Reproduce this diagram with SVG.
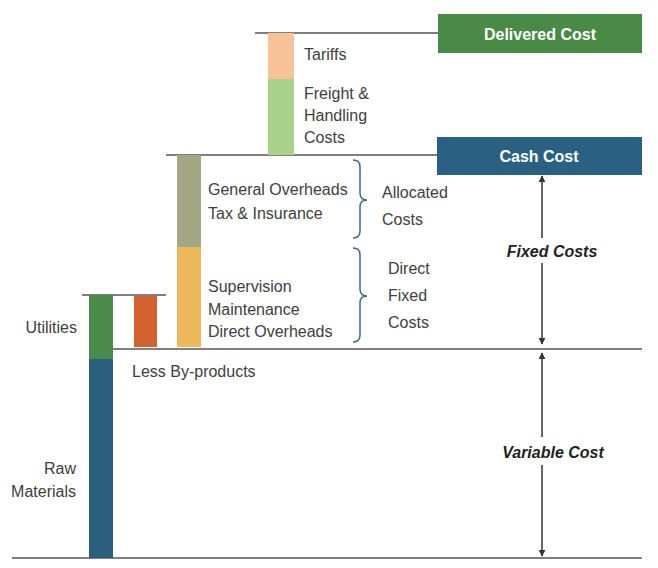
<svg xmlns="http://www.w3.org/2000/svg" width="658" height="568" viewBox="0 0 658 568">
<defs>
<style>
.t{font-family:"Liberation Sans",Arial,sans-serif;font-size:16px;fill:#404040}
.r{text-anchor:end}
.hd{font-family:"Liberation Sans",Arial,sans-serif;font-size:16px;font-weight:bold;fill:#ffffff;text-anchor:middle}
.it{font-family:"Liberation Sans",Arial,sans-serif;font-size:16px;font-weight:bold;font-style:italic;fill:#222222;text-anchor:middle}
.ln{stroke:#808080;stroke-width:2;fill:none}
.lnd{stroke:#555555;stroke-width:1.5;fill:none}
.br{stroke:#3D6A86;stroke-width:1.5;fill:none}
.ar{stroke:#333333;stroke-width:1.5;fill:none}
</style>
<marker id="ah" viewBox="0 0 10 10" refX="9" refY="5" markerWidth="7" markerHeight="7" markerUnits="userSpaceOnUse" orient="auto-start-reverse">
<path d="M0,0 L10,5 L0,10 z" fill="#333333"/>
</marker>
</defs>
<rect width="658" height="568" fill="#ffffff"/>

<g id="levels">
<line class="lnd" x1="255" y1="33" x2="438" y2="33"/>
<line class="lnd" x1="166" y1="155" x2="437" y2="155"/>
<line class="lnd" x1="82" y1="295" x2="166" y2="295"/>
<line class="ln" x1="113" y1="349" x2="642" y2="349"/>
<line class="ln" x1="12" y1="558" x2="642" y2="558"/>
</g>

<g id="delivered-cost">
<rect x="438" y="14" width="204" height="39" fill="#4A8A47"/>
<text class="hd" x="540" y="40">Delivered Cost</text>
</g>
<g id="cash-cost">
<rect x="437" y="137" width="205" height="38" fill="#2A6182"/>
<text class="hd" x="539" y="162">Cash Cost</text>
</g>

<g id="tariffs">
<rect x="268" y="33" width="26" height="46" fill="#F9C197"/>
<text class="t" x="304" y="60">Tariffs</text>
</g>
<g id="freight">
<rect x="268" y="79" width="26" height="76" fill="#A9D38A"/>
<text class="t" x="304" y="99">Freight &amp;</text>
<text class="t" x="304" y="121">Handling</text>
<text class="t" x="304" y="143">Costs</text>
</g>

<g id="general-overheads">
<rect x="177" y="155" width="24" height="92" fill="#A4A786"/>
<text class="t" x="208" y="195">General Overheads</text>
<text class="t" x="208" y="219">Tax &amp; Insurance</text>
</g>
<g id="supervision">
<rect x="177" y="247" width="24" height="100" fill="#EEB95A"/>
<text class="t" x="208" y="292">Supervision</text>
<text class="t" x="208" y="315">Maintenance</text>
<text class="t" x="208" y="337">Direct Overheads</text>
</g>

<g id="allocated-costs">
<path class="br" d="M353,160 Q360,160 360,167 L360,193 Q360,200 367,200 Q360,200 360,207 L360,231 Q360,238 353,238"/>
<text class="t" x="382" y="198">Allocated</text>
<text class="t" x="382" y="225">Costs</text>
</g>
<g id="direct-fixed-costs">
<path class="br" d="M353,248 Q360,248 360,255 L360,289 Q360,296 367,296 Q360,296 360,303 L360,335 Q360,342 353,342"/>
<text class="t" x="388" y="274">Direct</text>
<text class="t" x="388" y="301">Fixed</text>
<text class="t" x="388" y="328">Costs</text>
</g>

<g id="utilities">
<rect x="89" y="295" width="24" height="64" fill="#4A8A4A"/>
<text class="t r" x="77" y="333">Utilities</text>
</g>
<g id="raw-materials">
<rect x="89" y="359" width="24" height="199" fill="#2A5F7D"/>
<text class="t r" x="76" y="474">Raw</text>
<text class="t r" x="76" y="497">Materials</text>
</g>
<g id="by-products">
<rect x="134" y="296" width="23" height="51" fill="#D2622F"/>
<text class="t" x="132" y="377">Less By-products</text>
</g>

<g id="connectors">
<line class="ar" x1="542" y1="176" x2="542" y2="238" marker-start="url(#ah)"/>
<line class="ar" x1="542" y1="263" x2="542" y2="344" marker-end="url(#ah)"/>
<line class="ar" x1="542" y1="353" x2="542" y2="437" marker-start="url(#ah)"/>
<line class="ar" x1="542" y1="465" x2="542" y2="556" marker-end="url(#ah)"/>
</g>
<g id="fixed-costs">
<text class="it" x="552" y="257">Fixed Costs</text>
</g>
<g id="variable-cost">
<text class="it" x="553" y="458">Variable Cost</text>
</g>
</svg>
